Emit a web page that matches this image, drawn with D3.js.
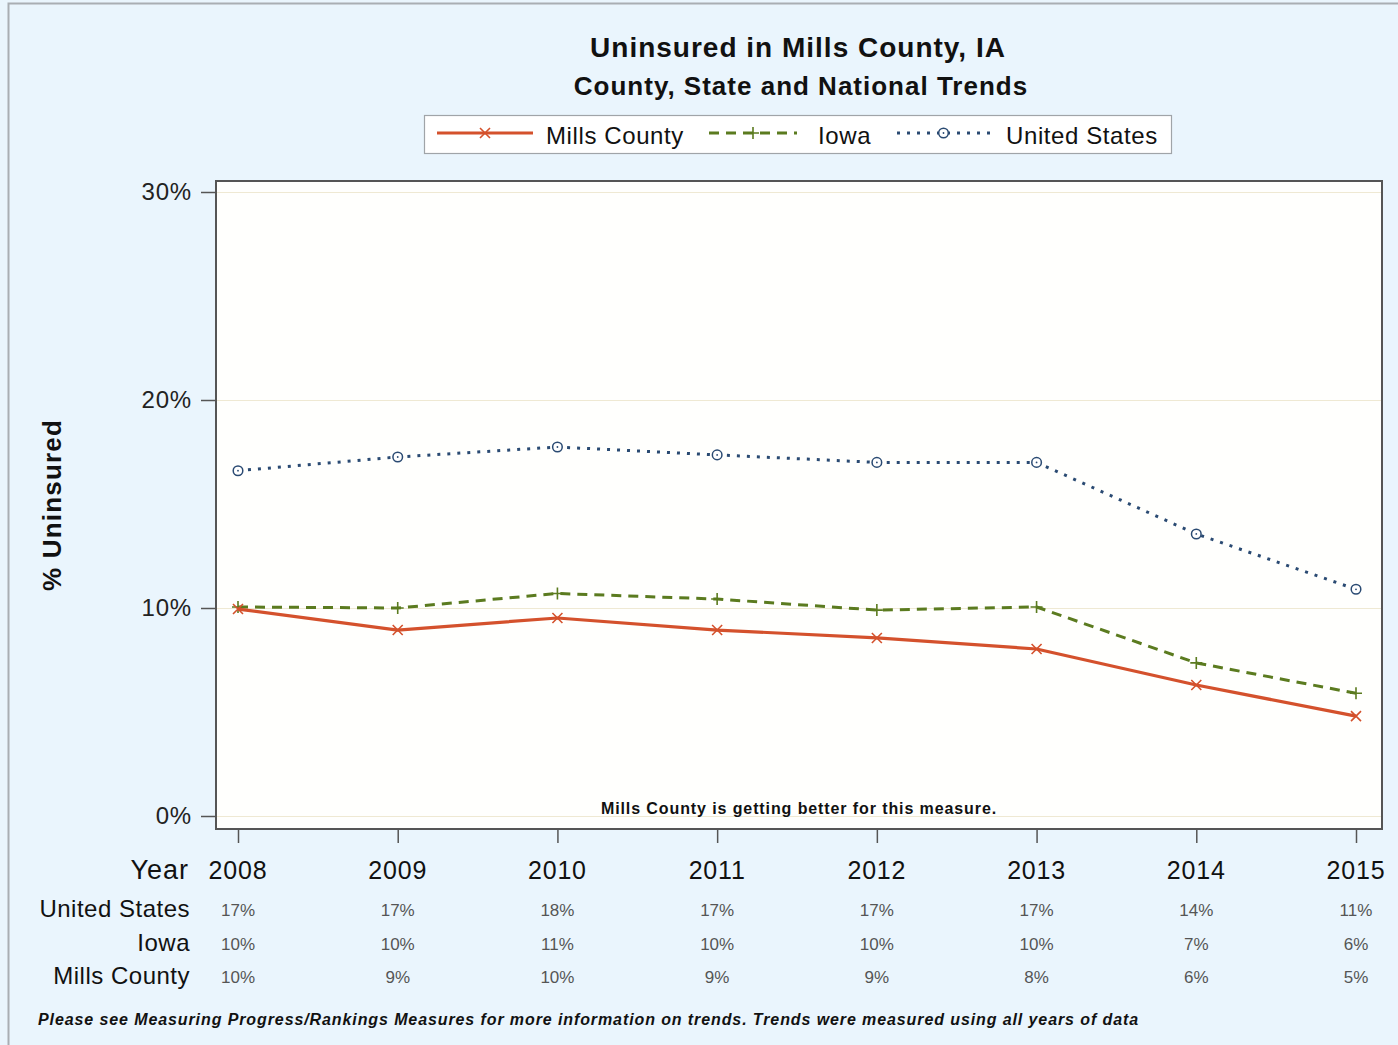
<!DOCTYPE html>
<html>
<head>
<meta charset="utf-8">
<script src="https://cdn.jsdelivr.net/npm/d3@7/dist/d3.min.js"></script>
<style>
  html, body { margin: 0; padding: 0; background: #eaf5fd; }
  svg { display: block; }
  text { font-family: "Liberation Sans", Arial, Helvetica, sans-serif; }
</style>
</head>
<body>
<svg id="chart" width="1398" height="1045"></svg>
<script>
// Percent uninsured by year
const years = [2008, 2009, 2010, 2011, 2012, 2013, 2014, 2015];
const millsCounty = [9.95, 8.94, 9.52, 8.94, 8.56, 8.03, 6.3, 4.8];
const iowa = [10.05, 10.0, 10.7, 10.43, 9.9, 10.05, 7.36, 5.9];
const unitedStates = [16.6, 17.26, 17.74, 17.36, 17.0, 17.0, 13.56, 10.9];
const yTicks = [0, 10, 20, 30];
const seriesNames = ["Mills County", "Iowa", "United States"];

const svg = d3.select("#chart");
const W = 1398, H = 1045;

// frame of the whole graphic
svg.append("rect").attr("x", 0).attr("y", 0).attr("width", W).attr("height", H).attr("fill", "#eaf5fd");
svg.append("path").attr("d", `M8.5,${H} V3.5 H${W}`).attr("fill", "none").attr("stroke", "#a9aeb3").attr("stroke-width", 2);

const plot = { left: 216, right: 1382, top: 181, bottom: 829 };
const x = d3.scalePoint().domain(years).range([238, 1356]);
const y = d3.scaleLinear().domain([0, 30]).range([816, 192]);

// titles
svg.append("text").attr("x", 798).attr("y", 57).attr("text-anchor", "middle")
  .attr("font-size", 28).attr("font-weight", "bold").attr("fill", "#111")
  .attr("letter-spacing", 1.0)
  .text("Uninsured in Mills County, IA");
svg.append("text").attr("x", 801).attr("y", 95).attr("text-anchor", "middle")
  .attr("font-size", 26).attr("font-weight", "bold").attr("fill", "#111")
  .attr("letter-spacing", 1.0)
  .text("County, State and National Trends");

const styles = {
  "Mills County": { color: "#d4512c", dash: null, width: 3.2, marker: "x" },
  "Iowa": { color: "#5b7b1f", dash: "10,7", width: 3, marker: "plus" },
  "United States": { color: "#2a4a72", dash: "3,7", width: 3, marker: "circle" }
};
const seriesData = {
  "Mills County": millsCounty,
  "Iowa": iowa,
  "United States": unitedStates
};

function drawMarker(g, type, cx, cy, color) {
  if (type === "x") {
    const s = 5;
    g.append("path").attr("d", `M${cx - s},${cy - s}L${cx + s},${cy + s}M${cx - s},${cy + s}L${cx + s},${cy - s}`)
      .attr("stroke", color).attr("stroke-width", 1.6).attr("fill", "none");
  } else if (type === "plus") {
    const s = 6;
    g.append("path").attr("d", `M${cx - s},${cy}L${cx + s},${cy}M${cx},${cy - s}L${cx},${cy + s}`)
      .attr("stroke", color).attr("stroke-width", 1.6).attr("fill", "none");
  } else {
    g.append("circle").attr("cx", cx).attr("cy", cy).attr("r", 4.8)
      .attr("stroke", color).attr("stroke-width", 1.5).attr("fill", "#fff");
    g.append("circle").attr("cx", cx).attr("cy", cy).attr("r", 0.9).attr("fill", color);
  }
}

// legend
const legend = svg.append("g");
legend.append("rect").attr("x", 424.5).attr("y", 115.5).attr("width", 747).attr("height", 38)
  .attr("fill", "#fff").attr("stroke", "#a0a4a8").attr("stroke-width", 1.2);
const legendItems = [
  { name: "Mills County", x1: 437, x2: 533, tx: 546 },
  { name: "Iowa", x1: 709, x2: 797, tx: 818 },
  { name: "United States", x1: 897, x2: 990, tx: 1006 }
];
legendItems.forEach(it => {
  const st = styles[it.name];
  legend.append("line").attr("x1", it.x1).attr("x2", it.x2).attr("y1", 133).attr("y2", 133)
    .attr("stroke", st.color).attr("stroke-width", st.width)
    .attr("stroke-dasharray", st.dash);
  drawMarker(legend, st.marker, (it.x1 + it.x2) / 2, 133, st.color);
  legend.append("text").attr("x", it.tx).attr("y", 144).attr("font-size", 24)
    .attr("letter-spacing", 0.6).attr("fill", "#111").text(it.name);
});

// plot area
svg.append("rect").attr("x", plot.left).attr("y", plot.top)
  .attr("width", plot.right - plot.left).attr("height", plot.bottom - plot.top)
  .attr("fill", "#fffffd");

// horizontal grid
svg.append("g").selectAll("line").data(yTicks).join("line")
  .attr("x1", plot.left).attr("x2", plot.right)
  .attr("y1", d => y(d) + 0.5).attr("y2", d => y(d) + 0.5)
  .attr("stroke", "#efe9d3").attr("stroke-width", 1.2);

// y axis
const yAxis = svg.append("g").attr("transform", `translate(${plot.left},0)`)
  .call(d3.axisLeft(y).tickValues(yTicks).tickFormat(d => d + "%").tickSize(15).tickPadding(9));
yAxis.select(".domain").remove();
yAxis.selectAll(".tick line").attr("stroke", "#555").attr("stroke-width", 1.5);
yAxis.selectAll(".tick text").attr("font-size", 24).attr("fill", "#222")
  .attr("letter-spacing", 0.8)
  .attr("font-family", "Liberation Sans, Arial, sans-serif");

// x axis ticks
const xAxis = svg.append("g").attr("transform", `translate(0,${plot.bottom})`)
  .call(d3.axisBottom(x).tickSize(14).tickFormat(""));
xAxis.select(".domain").remove();
xAxis.selectAll(".tick line").attr("stroke", "#555").attr("stroke-width", 1.5);

// plot border
svg.append("rect").attr("x", plot.left).attr("y", plot.top)
  .attr("width", plot.right - plot.left).attr("height", plot.bottom - plot.top)
  .attr("fill", "none").attr("stroke", "#555").attr("stroke-width", 2);

// y axis title
svg.append("text").attr("transform", "translate(61,505) rotate(-90)").attr("text-anchor", "middle")
  .attr("font-size", 26).attr("font-weight", "bold").attr("fill", "#111")
  .attr("letter-spacing", 1.2).text("% Uninsured");

// series lines and markers, US drawn first
const line = d3.line().x((d, i) => x(years[i])).y(d => y(d));
["United States", "Iowa", "Mills County"].forEach(name => {
  const st = styles[name];
  const vals = seriesData[name];
  svg.append("path").attr("d", line(vals)).attr("fill", "none")
    .attr("stroke", st.color).attr("stroke-width", st.width)
    .attr("stroke-dasharray", st.dash).attr("stroke-linejoin", "round");
  const mg = svg.append("g");
  vals.forEach((v, i) => drawMarker(mg, st.marker, x(years[i]), y(v), st.color));
});

// trend note
svg.append("text").attr("x", 799).attr("y", 814).attr("text-anchor", "middle")
  .attr("font-size", 16).attr("font-weight", "bold").attr("fill", "#111")
  .attr("letter-spacing", 0.9)
  .text("Mills County is getting better for this measure.");

// year row
svg.append("text").attr("x", 189).attr("y", 879).attr("text-anchor", "end")
  .attr("font-size", 27).attr("letter-spacing", 1.0).attr("fill", "#111").text("Year");
svg.append("g").selectAll("text").data(years).join("text")
  .attr("x", d => x(d)).attr("y", 879).attr("text-anchor", "middle")
  .attr("font-size", 25).attr("letter-spacing", 0.8).attr("fill", "#111").text(d => d);

// value table
const rows = [
  { name: "United States", vals: unitedStates, y: 917 },
  { name: "Iowa", vals: iowa, y: 951 },
  { name: "Mills County", vals: millsCounty, y: 984 }
];
rows.forEach(r => {
  svg.append("text").attr("x", 190).attr("y", r.y).attr("text-anchor", "end")
    .attr("font-size", 24).attr("letter-spacing", 0.5).attr("fill", "#111").text(r.name);
  svg.append("g").selectAll("text").data(r.vals).join("text")
    .attr("x", (d, i) => x(years[i])).attr("y", r.y - 1).attr("text-anchor", "middle")
    .attr("font-size", 17).attr("fill", "#555")
    .attr("font-family", "'Liberation Sans Narrow', 'Liberation Sans', Arial, sans-serif")
    .text(d => Math.round(d) + "%");
});

// footnote
svg.append("text").attr("x", 38).attr("y", 1025)
  .attr("font-size", 16).attr("font-weight", "bold").attr("font-style", "italic").attr("fill", "#111")
  .attr("letter-spacing", 0.9)
  .text("Please see Measuring Progress/Rankings Measures for more information on trends. Trends were measured using all years of data");
</script>
</body>
</html>
